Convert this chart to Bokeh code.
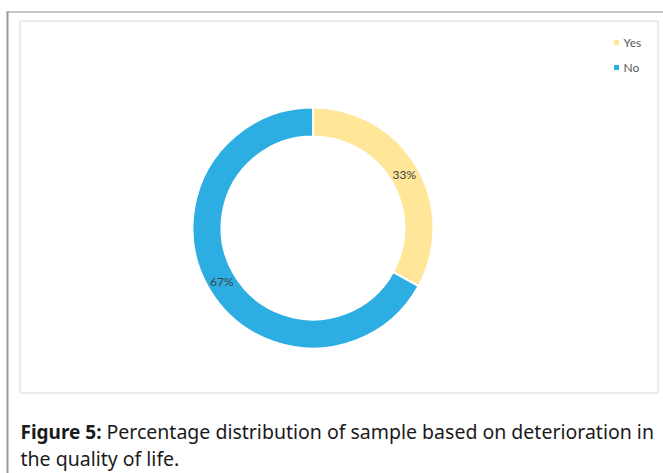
import math
from bokeh.plotting import figure
from bokeh.models import Range1d, ColumnDataSource
from bokeh.core.properties import value
from bokeh.embed import file_html
from bokeh.resources import INLINE

# ---- data ----
categories = ["Yes", "No"]
percents = [33, 67]
colors = ["#FFE699", "#2DAEE3"]
caption_bold = "Figure 5:"
caption_rest = "Percentage distribution of sample based on deterioration in"
caption_line2 = "the quality of life."

W, H = 663, 473

def X(page_x):
    return page_x

def Y(page_y):
    return H - page_y

p = figure(width=W, height=H, output_backend="svg", toolbar_location=None,
           x_range=Range1d(0, W), y_range=Range1d(0, H), min_border=0,
           border_fill_color="white", background_fill_color="white")
p.axis.visible = False
p.grid.visible = False
p.outline_line_color = None

# page frame lines
p.segment(x0=[6], y0=[Y(11.5)], x1=[W], y1=[Y(11.5)], line_color="#8c8c8c", line_width=1.2)
p.segment(x0=[7], y0=[Y(11)], x1=[7], y1=[0], line_color="#9a9a9a", line_width=2)

# chart box
p.quad(left=[X(19.5)], right=[X(657.5)], top=[Y(20.5)], bottom=[Y(392.5)],
       fill_color="white", line_color="#d9d9d9", line_width=1)

# donut
cx, cy = X(312.5), Y(227.5)
r_out, r_in = 120.5, 91.5
total = sum(percents)
starts, ends, lx, ly, labels = [], [], [], [], []
cum = 0
for v in percents:
    a0 = math.pi / 2 - 2 * math.pi * cum / total
    a1 = math.pi / 2 - 2 * math.pi * (cum + v) / total
    starts.append(a0)
    ends.append(a1)
    mid = (a0 + a1) / 2
    rm = (r_in + r_out) / 2
    lx.append(cx + rm * math.cos(mid))
    ly.append(cy + rm * math.sin(mid))
    labels.append(f"{v}%")
    cum += v

src = ColumnDataSource(dict(start=starts, end=ends, color=colors, cat=categories))
p.annular_wedge(x=cx, y=cy, inner_radius=r_in, outer_radius=r_out,
                start_angle="start", end_angle="end", direction="clock",
                fill_color="color", line_color="white", line_width=2, source=src)

p.text(x=lx, y=ly, text=labels, text_align="center", text_baseline="middle",
       text_font=value("Lato"), text_font_size="12px", text_color="#404040")

# legend
leg_y = [Y(42 + 25 * i) for i in range(len(categories))]
p.scatter(x=[X(616)] * len(categories), y=leg_y, marker="square", size=5,
          fill_color=colors, line_color=None)
p.text(x=[X(623)] * len(categories), y=leg_y, text=categories,
       text_align="left", text_baseline="middle",
       text_font=value("Lato"), text_font_size="12px", text_color="#595959")

# caption
cap_font = value("Noto Sans")
p.text(x=[X(20)], y=[Y(431)], text=[caption_bold], text_align="left",
       text_baseline="alphabetic", text_font=cap_font, text_font_size="19px",
       text_font_style="bold", text_color="#1a1a1a")
p.text(x=[X(106)], y=[Y(431)], text=[caption_rest], text_align="left",
       text_baseline="alphabetic", text_font=cap_font, text_font_size="19.5px",
       text_color="#1a1a1a")
p.text(x=[X(20)], y=[Y(458)], text=[caption_line2], text_align="left",
       text_baseline="alphabetic", text_font=cap_font, text_font_size="19.5px",
       text_color="#1a1a1a")

open("out.html", "w").write(file_html(p, INLINE))
